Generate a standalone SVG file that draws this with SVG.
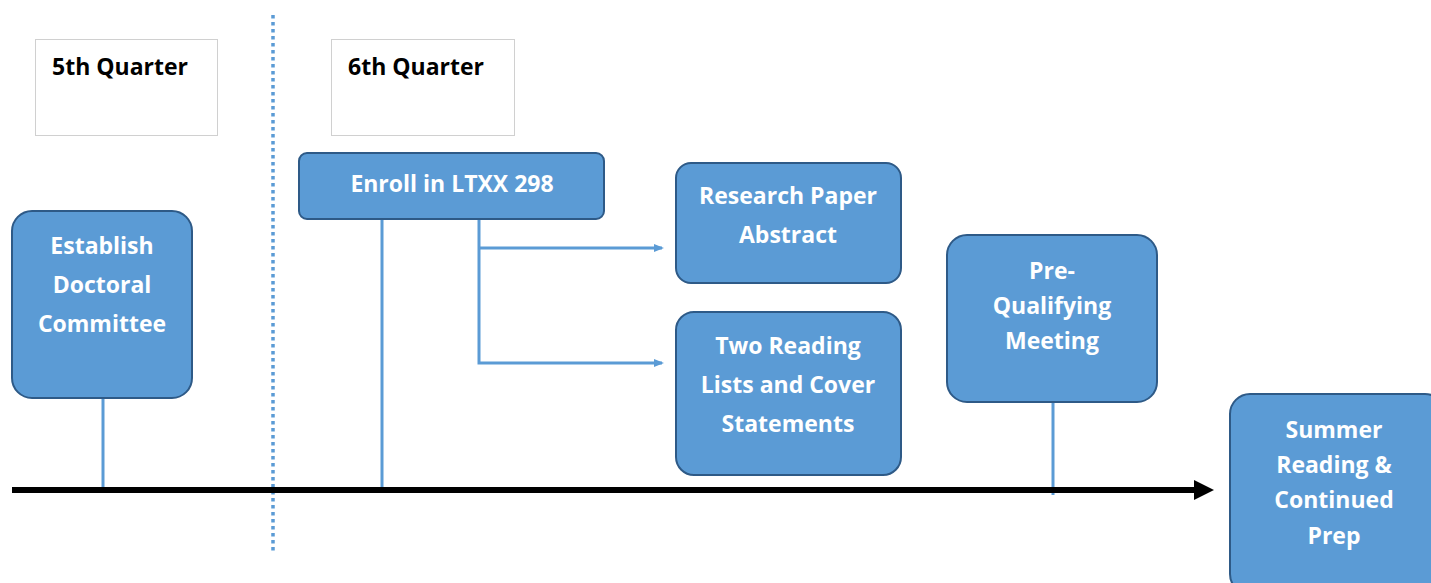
<svg xmlns="http://www.w3.org/2000/svg" width="1431" height="583" viewBox="0 0 1431 583">
  <style>
    .node { fill: #5B9BD5; stroke: #2E5A87; stroke-width: 2; }
    .label { fill: #ffffff; font-family: "Open Sans", Lato, sans-serif; font-weight: bold; font-size: 23px; text-anchor: middle; }
    .head { fill: #000000; font-family: "Open Sans", Lato, sans-serif; font-weight: bold; font-size: 23px; }
    .qbox { fill: #ffffff; stroke: #d0d0d0; stroke-width: 1; }
    .link { stroke: #5B9BD5; stroke-width: 3; fill: none; }
  </style>
  <defs>
    <marker id="blueArrow" markerWidth="10" markerHeight="10" refX="8" refY="5" orient="auto" markerUnits="userSpaceOnUse">
      <path d="M0,1 L10,5 L0,9 Z" fill="#5B9BD5"/>
    </marker>
  </defs>

  <rect width="1431" height="583" fill="#ffffff"/>

  <!-- quarter headings -->
  <g id="q5">
    <rect class="qbox" x="35.5" y="39.5" width="182" height="96"/>
    <text class="head" x="52" y="75">5th Quarter</text>
  </g>
  <g id="q6">
    <rect class="qbox" x="331.5" y="39.5" width="183" height="96"/>
    <text class="head" x="348" y="75">6th Quarter</text>
  </g>

  <!-- connectors -->
  <g id="connectors">
    <line x1="273" y1="15" x2="273" y2="552" stroke="#5B9BD5" stroke-width="3.5" stroke-dasharray="3.5 3.5"/>
    <line class="link" x1="103" y1="398" x2="103" y2="490"/>
    <line class="link" x1="382" y1="219" x2="382" y2="490"/>
    <polyline class="link" points="479,219 479,363 662,363" marker-end="url(#blueArrow)"/>
    <line class="link" x1="479" y1="248" x2="662" y2="248" marker-end="url(#blueArrow)"/>
    <line class="link" x1="1053" y1="402" x2="1053" y2="495"/>
    <line x1="12" y1="490" x2="1196" y2="490" stroke="#000000" stroke-width="6"/>
    <path d="M1194,480 L1214,490 L1194,500 Z" fill="#000000"/>
  </g>

  <g id="establish">
    <rect class="node" x="12" y="211" width="180" height="187" rx="20"/>
    <text class="label" x="102" y="254">Establish</text>
    <text class="label" x="102" y="293">Doctoral</text>
    <text class="label" x="102" y="332">Committee</text>
  </g>

  <g id="enroll">
    <rect class="node" x="299" y="153" width="305" height="66" rx="8"/>
    <text class="label" x="452" y="192">Enroll in LTXX 298</text>
  </g>

  <g id="research">
    <rect class="node" x="676" y="163" width="225" height="120" rx="15"/>
    <text class="label" x="788" y="204">Research Paper</text>
    <text class="label" x="788" y="243">Abstract</text>
  </g>

  <g id="reading">
    <rect class="node" x="676" y="312" width="225" height="163" rx="18"/>
    <text class="label" x="788" y="354">Two Reading</text>
    <text class="label" x="788" y="393">Lists and Cover</text>
    <text class="label" x="788" y="432">Statements</text>
  </g>

  <g id="prequal">
    <rect class="node" x="947" y="235" width="210" height="167" rx="20"/>
    <text class="label" x="1052" y="279">Pre-</text>
    <text class="label" x="1052" y="314">Qualifying</text>
    <text class="label" x="1052" y="349">Meeting</text>
  </g>

  <g id="summer">
    <rect class="node" x="1230" y="394" width="215" height="200" rx="20"/>
    <text class="label" x="1334" y="438">Summer</text>
    <text class="label" x="1334" y="473">Reading &amp;</text>
    <text class="label" x="1334" y="508">Continued</text>
    <text class="label" x="1334" y="544">Prep</text>
  </g>
</svg>
